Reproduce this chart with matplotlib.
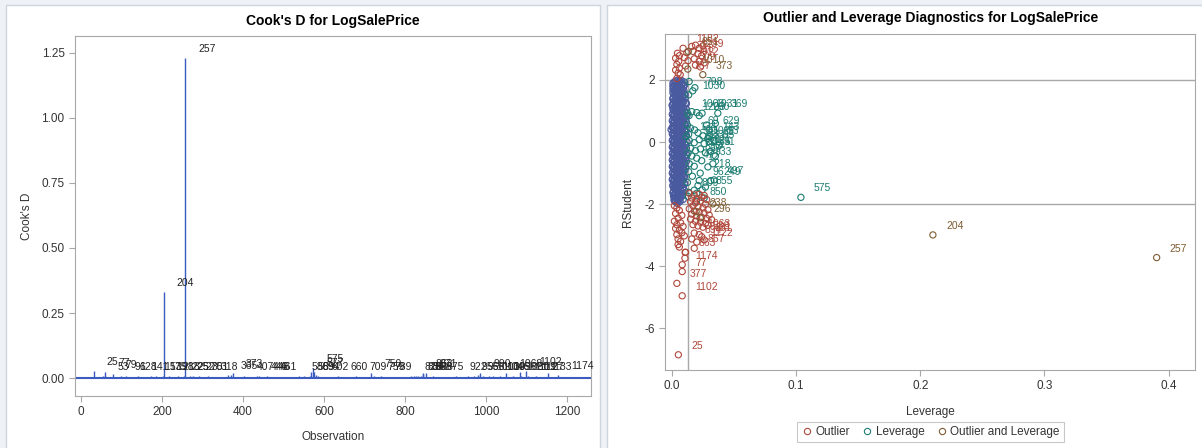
import matplotlib
matplotlib.use('Agg')
import matplotlib.pyplot as plt
from matplotlib.lines import Line2D
from matplotlib.patches import Rectangle

plt.rcParams['font.family'] = ['Liberation Sans', 'DejaVu Sans']
plt.rcParams['axes.unicode_minus'] = False

# ---------------- Cook's D data ----------------
# small needles without a label
plain_obs = [55, 102, 130, 150, 188, 233, 270, 322, 345, 370,
             388, 412, 455, 470, 495, 520, 548, 567, 580, 605,
             655, 690, 733, 755, 780, 828, 845, 880, 905, 940,
             981, 1025, 1060, 1084, 1140, 1153, 1190, 1215, 1240]
plain_d = [0.008, 0.004, 0.005, 0.003, 0.003, 0.005, 0.006, 0.004, 0.003, 0.012,
           0.004, 0.003, 0.003, 0.004, 0.003, 0.004, 0.005, 0.022, 0.010, 0.004,
           0.003, 0.004, 0.003, 0.004, 0.003, 0.006, 0.015, 0.004, 0.003, 0.005,
           0.011, 0.004, 0.003, 0.025, 0.004, 0.018, 0.003, 0.004, 0.003]

# labelled observations
lab_ids = ['25', '77', '53', '79', '96', '128', '141', '153', '175', '198',
           '218', '225', '252', '275', '301', '318', '365', '373', '407', '446',
           '448', '461', '586', '589', '594', '602', '575', '577', '660', '709',
           '750', '759', '789', '826', '834', '851', '858', '863', '871', '875',
           '922', '955', '966', '990', '1010', '1030', '1046', '1056', '1068', '1080',
           '1119', '1102', '1127', '1133', '1174', '204', '257']
lab_obs = [31, 60, 59, 78, 99, 111, 140, 173, 185, 202,
           217, 239, 254, 276, 291, 313, 362, 375, 402, 435,
           440, 459, 538, 551, 565, 585, 573, 575, 634, 679,
           716, 723, 741, 815, 822, 832, 840, 844, 852, 869,
           926, 956, 970, 985, 993, 1007, 1017, 1035, 1049, 1067,
           1086, 1099, 1104, 1123, 1177, 204, 257]
lab_d = [0.027, 0.025, 0.008, 0.015, 0.008, 0.008, 0.008, 0.008, 0.008, 0.008,
         0.008, 0.008, 0.008, 0.008, 0.008, 0.008, 0.012, 0.018, 0.008, 0.008,
         0.008, 0.008, 0.008, 0.008, 0.008, 0.008, 0.040, 0.022, 0.008, 0.008,
         0.020, 0.008, 0.008, 0.008, 0.008, 0.008, 0.008, 0.020, 0.018, 0.008,
         0.008, 0.008, 0.008, 0.020, 0.008, 0.008, 0.008, 0.008, 0.020, 0.008,
         0.008, 0.027, 0.008, 0.008, 0.012, 0.330, 1.230]

# ---------------- RStudent vs leverage data ----------------
# regular observations: one RStudent value per row with its leverages
norm_rs = [1.98, 1.93, 1.86, 1.80, 1.73, 1.66, 1.59, 1.52, 1.45, 1.38,
           1.31, 1.24, 1.17, 1.10, 1.03, 0.96, 0.89, 0.82, 0.75, 0.68,
           0.61, 0.54, 0.47, 0.40, 0.33, 0.26, 0.19, 0.12, 0.05, -0.02,
           -0.09, -0.16, -0.23, -0.30, -0.37, -0.44, -0.51, -0.58, -0.65, -0.72,
           -0.79, -0.86, -0.93, -1.00, -1.07, -1.14, -1.21, -1.28, -1.35, -1.42,
           -1.49, -1.56, -1.63, -1.70, -1.77, -1.84, -1.91, -1.97]
norm_lev = [
    [0.0045, 0.0075], [0.0020, 0.0060, 0.0100], [0.0035, 0.0080],
    [0.0010, 0.0050, 0.0090], [0.0030, 0.0070], [0.0020, 0.0055, 0.0095],
    [0.0010, 0.0040, 0.0080], [0.0030, 0.0065, 0.0105], [0.0015, 0.0050, 0.0085],
    [0.0035, 0.0070, 0.0010], [0.0025, 0.0060, 0.0095], [0.0015, 0.0045, 0.0080, 0.0115],
    [0.0035, 0.0070, 0.0005], [0.0025, 0.0060, 0.0095], [0.0015, 0.0050, 0.0085],
    [0.0035, 0.0070, 0.0105], [0.0005, 0.0025, 0.0060, 0.0090], [0.0015, 0.0045, 0.0080],
    [0.0035, 0.0070, 0.0110], [0.0005, 0.0025, 0.0055, 0.0090], [0.0015, 0.0045, 0.0080],
    [0.0035, 0.0065, 0.0100], [0.0005, 0.0025, 0.0055, 0.0090], [-0.0005, 0.0015, 0.0045, 0.0080],
    [0.0035, 0.0065, 0.0110], [0.0005, 0.0025, 0.0055, 0.0090], [0.0015, 0.0045, 0.0080],
    [0.0035, 0.0065, 0.0100], [0.0005, 0.0025, 0.0055, 0.0090], [0.0015, 0.0045, 0.0080],
    [0.0035, 0.0065, 0.0110], [0.0005, 0.0025, 0.0055, 0.0090], [0.0015, 0.0045, 0.0080],
    [0.0035, 0.0065, 0.0100], [0.0005, 0.0025, 0.0055, 0.0090], [0.0015, 0.0045, 0.0080],
    [0.0035, 0.0065, 0.0110], [0.0005, 0.0025, 0.0055, 0.0090], [0.0015, 0.0045, 0.0080],
    [0.0035, 0.0065, 0.0100], [0.0005, 0.0025, 0.0055, 0.0090], [0.0015, 0.0045, 0.0080],
    [0.0035, 0.0065, 0.0100], [0.0005, 0.0025, 0.0055, 0.0090], [0.0015, 0.0045, 0.0080],
    [0.0035, 0.0065, 0.0095], [0.0005, 0.0025, 0.0055, 0.0085], [0.0015, 0.0045, 0.0080],
    [0.0035, 0.0065, 0.0100], [0.0010, 0.0030, 0.0060], [0.0020, 0.0050, 0.0085],
    [0.0035, 0.0070, 0.0100], [0.0010, 0.0030, 0.0060], [0.0020, 0.0050, 0.0085],
    [0.0035, 0.0070], [0.0020, 0.0050, 0.0090], [0.0030, 0.0065], [0.0045],
]
# second, interleaved set of regular observations
norm_rs_b = [1.96, 1.89, 1.83, 1.76, 1.69, 1.62, 1.55, 1.48, 1.41, 1.34,
             1.27, 1.20, 1.13, 1.06, 0.99, 0.92, 0.85, 0.78, 0.71, 0.64,
             0.57, 0.50, 0.43, 0.36, 0.29, 0.22, 0.15, 0.08, 0.01, -0.06,
             -0.13, -0.20, -0.27, -0.34, -0.41, -0.48, -0.55, -0.62, -0.69, -0.76,
             -0.83, -0.90, -0.97, -1.04, -1.11, -1.18, -1.25, -1.32, -1.39, -1.46,
             -1.53, -1.60, -1.67, -1.74, -1.81, -1.88]
norm_lev_b = [
    [0.0030, 0.0065], [0.0010, 0.0045, 0.0080], [0.0025, 0.0060, 0.0100], [0.0015, 0.0070],
    [0.0040, 0.0085, 0.0010], [0.0030, 0.0070], [0.0020, 0.0060, 0.0100], [0.0045, 0.0080],
    [0.0010, 0.0035, 0.0070, 0.0105], [0.0025, 0.0050, 0.0085], [0.0040, 0.0075, 0.0110], [0.0005, 0.0030, 0.0065],
    [0.0020, 0.0055, 0.0090], [0.0010, 0.0040, 0.0075, 0.0115], [0.0030, 0.0065, 0.0100], [0.0010, 0.0040, 0.0075],
    [0.0020, 0.0050, 0.0085, 0.0120], [0.0030, 0.0065, 0.0100], [0.0010, 0.0040, 0.0075], [0.0020, 0.0050, 0.0085, 0.0115],
    [0.0030, 0.0065, 0.0100], [0.0010, 0.0040, 0.0075], [0.0020, 0.0050, 0.0085, 0.0120], [0.0030, 0.0065, 0.0100],
    [0.0010, 0.0040, 0.0075], [0.0020, 0.0050, 0.0085, 0.0115], [0.0030, 0.0065, 0.0100], [0.0010, 0.0040, 0.0075],
    [0.0020, 0.0050, 0.0085, 0.0120], [0.0030, 0.0065, 0.0100], [0.0010, 0.0040, 0.0075], [0.0020, 0.0050, 0.0085, 0.0115],
    [0.0030, 0.0065, 0.0100], [0.0010, 0.0040, 0.0075], [0.0020, 0.0050, 0.0085, 0.0120], [0.0030, 0.0065, 0.0100],
    [0.0010, 0.0040, 0.0075], [0.0020, 0.0050, 0.0085, 0.0115], [0.0030, 0.0065, 0.0100], [0.0010, 0.0040, 0.0075],
    [0.0020, 0.0050, 0.0085, 0.0110], [0.0030, 0.0065, 0.0100], [0.0010, 0.0040, 0.0075], [0.0020, 0.0050, 0.0085],
    [0.0030, 0.0065, 0.0100], [0.0010, 0.0040, 0.0075], [0.0020, 0.0050, 0.0085], [0.0030, 0.0065, 0.0100],
    [0.0010, 0.0040, 0.0075], [0.0020, 0.0055, 0.0090], [0.0030, 0.0065], [0.0015, 0.0045, 0.0080],
    [0.0025, 0.0060], [0.0015, 0.0045, 0.0080], [0.0030, 0.0060], [0.0020, 0.0055],
]

# outliers (lev, rstudent, id)
outlier_pts = [
    (0.0040, 2.05, ''), (0.0050, 2.22, ''), (0.0030, 2.32, ''), (0.0060, 2.38, ''),
    (0.0040, 2.50, ''), (0.0055, 2.60, ''), (0.0030, 2.70, ''), (0.0060, 2.78, ''),
    (0.0045, 2.86, ''), (0.0067, 2.17, '787'),
    (0.0090, 3.02, '1182'), (0.0120, 2.88, '1299'), (0.0100, 2.72, '118'),
    (0.0130, 2.62, '912'), (0.0110, 2.45, '309'),
    (0.016, 3.08, ''), (0.019, 3.12, ''), (0.022, 3.02, ''), (0.025, 3.10, ''),
    (0.017, 2.92, ''), (0.021, 2.85, ''), (0.024, 2.78, ''), (0.018, 2.68, ''),
    (0.022, 2.60, ''), (0.026, 2.55, ''), (0.019, 2.48, ''), (0.023, 2.42, ''),
    (0.0020, -2.05, ''), (0.0040, -2.12, ''), (0.0060, -2.20, ''), (0.0030, -2.30, ''),
    (0.0080, -2.36, ''), (0.0050, -2.45, ''), (0.0020, -2.55, ''), (0.0070, -2.60, ''),
    (0.0040, -2.66, ''), (0.0090, -2.72, ''), (0.0030, -2.78, ''), (0.0060, -2.84, ''),
    (0.0080, -2.92, ''), (0.0040, -2.98, ''), (0.0100, -3.02, ''), (0.0050, -3.12, ''),
    (0.0070, -3.20, ''), (0.0050, -3.30, ''), (0.0060, -3.38, ''), (0.0110, -3.55, ''),
    (0.0105, -3.74, ''), (0.0083, -3.95, '1174'), (0.0083, -4.17, '77'),
    (0.0040, -4.55, '377'), (0.0083, -4.95, '1102'), (0.0052, -6.85, '25'),
    (0.014, -1.65, ''), (0.018, -1.70, ''), (0.022, -1.68, ''), (0.026, -1.72, ''),
    (0.016, -1.80, ''), (0.020, -1.83, ''), (0.024, -1.78, ''), (0.028, -1.85, ''),
    (0.015, -1.92, ''), (0.019, -1.96, ''), (0.023, -1.90, ''), (0.027, -2.00, ''),
    (0.017, -2.05, ''), (0.021, -2.08, ''), (0.025, -2.12, ''), (0.029, -2.18, ''),
    (0.014, -2.15, ''), (0.018, -2.22, ''), (0.022, -2.25, ''), (0.026, -2.28, ''),
    (0.030, -2.35, ''), (0.016, -2.32, ''), (0.020, -2.38, ''), (0.024, -2.42, ''),
    (0.028, -2.46, ''), (0.032, -2.50, ''), (0.015, -2.48, ''), (0.019, -2.55, ''),
    (0.023, -2.58, ''), (0.027, -2.62, ''), (0.017, -2.66, ''), (0.021, -2.70, ''),
    (0.025, -2.74, ''), (0.029, -2.68, ''),
    (0.018, -2.93, '1063'), (0.022, -2.98, '588'), (0.016, -3.12, '894'),
    (0.024, -3.05, '681'), (0.020, -3.22, '1122'), (0.026, -3.15, ''),
    (0.0107, -3.55, '863'), (0.018, -3.42, '857'),
]

# high leverage (lev, rstudent, id)
leverage_pts = [
    (0.0168, 1.65, '798'), (0.0135, 1.52, '1030'), (0.0139, 1.95, ''), (0.0185, 1.75, ''),
    (0.0127, 0.93, '1003'), (0.0243, 0.93, '1031'), (0.0370, 0.93, '369'),
    (0.0138, 0.85, '1203'), (0.0220, 0.85, '260'), (0.0160, 0.98, ''), (0.0200, 0.95, ''),
    (0.0183, 0.39, '69'), (0.0300, 0.39, '629'), (0.0115, 0.18, '134'), (0.0300, 0.18, '143'),
    (0.0350, 0.60, ''), (0.0280, 0.55, ''), (0.0150, 0.45, ''),
    (0.0140, 0.05, '541'), (0.0180, -0.02, '88'), (0.0220, 0.08, '1027'), (0.0260, -0.05, '305'),
    (0.0300, 0.02, '61'), (0.0340, 0.05, '53'), (0.0150, -0.20, '466'), (0.0190, -0.28, '1185'),
    (0.0230, -0.22, '821'), (0.0270, -0.35, '1'), (0.0310, -0.30, '91'), (0.0160, -0.45, '833'),
    (0.0200, -0.52, '67'), (0.0240, -0.60, '933'), (0.0140, -0.70, '47'), (0.0180, -0.78, '12'),
    (0.0228, -1.00, '218'), (0.0220, -1.24, '96'), (0.0313, -1.24, '249'), (0.0340, -1.22, '497'),
    (0.0244, -1.54, '855'), (0.0136, -1.62, '809'), (0.0198, -1.91, '850'),
    (0.0130, -0.35, ''), (0.0135, -0.95, ''), (0.0165, -1.10, ''), (0.0125, -1.30, ''),
    (0.0210, -1.40, ''), (0.0270, -1.45, ''), (0.0180, -1.55, ''), (0.0290, -0.80, ''),
    (0.0330, -0.70, ''), (0.0125, 0.55, ''), (0.0135, 0.25, ''), (0.0210, 0.30, ''),
    (0.0250, 0.20, ''), (0.0290, 0.12, ''), (0.0380, -0.10, ''), (0.0350, -0.45, ''),
    (0.0130, -1.75, ''), (0.0260, -1.80, ''), (0.0200, -1.65, ''),
    (0.1039, -1.78, '575'),
]

# outlier and leverage (lev, rstudent, id)
both_pts = [
    (0.0132, 2.92, '851'), (0.0128, 2.35, '1010'), (0.0249, 2.17, '373'),
    (0.0195, -2.24, '238'), (0.0228, -2.44, '296'), (0.0330, -1.99, ''),
    (0.2102, -2.99, '204'), (0.3904, -3.72, '257'),
]

rs_cut = 2.0
lev_cut = 0.0126

needle_c = '#3b5bbf'
blue_c = '#4a5a9e'
red_c = '#b0473b'
teal_c = '#1c7d72'
brown_c = '#7d5c32'
gray = '#a8a8a8'

fig = plt.figure(figsize=(12.02, 4.48), dpi=100, facecolor='#eef1f5')
for x0, x1 in [(6, 600), (607, 1210)]:
    fig.patches.append(Rectangle((x0 / 1202, -0.01), (x1 - x0) / 1202, 1.0 - 5 / 448 + 0.01,
                                 transform=fig.transFigure, facecolor='white',
                                 edgecolor='#cfd5de', lw=1, zorder=-10))


def style(ax):
    ax.set_zorder(1)
    ax.patch.set_alpha(0)
    for s in ax.spines.values():
        s.set_color(gray)
    ax.tick_params(direction='out', length=4, color=gray, labelsize=8.5, labelcolor='#333333')


# ---------------- left: Cook's D ----------------
axL = fig.add_axes([0.0624, 0.1161, 0.4293, 0.8035])
style(axL)
axL.vlines(plain_obs + lab_obs, 0, plain_d + lab_d, color=needle_c, lw=1)
axL.axhline(0, color=needle_c, lw=1.5)
for t, x, y in zip(lab_ids, lab_obs, lab_d):
    axL.annotate(t, (x, y), xytext=(9.4, 6.5), textcoords='offset points',
                 fontsize=7.5, ha='left', va='center', color='#222222')
axL.set_xlim(-15, 1259)
axL.set_ylim(-0.069, 1.315)
axL.set_xticks([0, 200, 400, 600, 800, 1000, 1200])
axL.set_yticks([0, 0.25, 0.5, 0.75, 1.0, 1.25])
axL.set_yticklabels(['0.00', '0.25', '0.50', '0.75', '1.00', '1.25'])
axL.set_xlabel('Observation', fontsize=8.5, color='#333333')
axL.set_ylabel("Cook's D", fontsize=8.5, color='#333333')
axL.xaxis.set_label_coords(0.5, -0.097)
axL.yaxis.set_label_coords(-0.081, 0.5)
axL.set_title("Cook's D for LogSalePrice", fontsize=10, fontweight='bold', pad=8)

# ---------------- right: RStudent by leverage ----------------
axR = fig.add_axes([0.5535, 0.1741, 0.4407, 0.75])
style(axR)
axR.axhline(rs_cut, color=gray, lw=1, zorder=1)
axR.axhline(-rs_cut, color=gray, lw=1, zorder=1)
axR.axvline(lev_cut, color=gray, lw=1, zorder=1)

bx = [v for row in norm_lev + norm_lev_b for v in row]
by = [r for r, row in zip(norm_rs + norm_rs_b, norm_lev + norm_lev_b) for _ in row]
axR.scatter(bx, by, s=22, facecolors='none', edgecolors=blue_c, linewidths=0.9, zorder=2)

for pts, c in [(leverage_pts, teal_c), (outlier_pts, red_c), (both_pts, brown_c)]:
    xs = [p[0] for p in pts]
    ys = [p[1] for p in pts]
    axR.scatter(xs, ys, s=20, facecolors='none', edgecolors=c, linewidths=0.8, zorder=3)
    for x, y, t in pts:
        if t:
            axR.annotate(t, (x, y), xytext=(9.4, 6.5), textcoords='offset points',
                         fontsize=7.5, ha='left', va='center', color=c, zorder=4)

axR.set_xlim(-0.0053, 0.4213)
axR.set_ylim(-7.34, 3.48)
axR.set_xticks([0, 0.1, 0.2, 0.3, 0.4])
axR.set_xticklabels(['0.0', '0.1', '0.2', '0.3', '0.4'])
axR.set_yticks([-6, -4, -2, 0, 2])
axR.set_xlabel('Leverage', fontsize=8.5, color='#333333')
axR.set_ylabel('RStudent', fontsize=8.5, color='#333333')
axR.xaxis.set_label_coords(0.5, -0.106)
axR.yaxis.set_label_coords(-0.059, 0.5)
axR.set_title('Outlier and Leverage Diagnostics for LogSalePrice', fontsize=10,
              fontweight='bold', pad=9)

handles = [Line2D([], [], marker='o', ls='none', mfc='none', mec=c, ms=4.5, mew=0.8)
           for c in (red_c, teal_c, brown_c)]
leg = fig.legend(handles, ['Outlier', 'Leverage', 'Outlier and Leverage'],
                 loc='center', bbox_to_anchor=(0.774, 0.0357), ncol=3, fontsize=8.5,
                 handletextpad=0.2, columnspacing=1.0, borderpad=0.35, handlelength=1.0,
                 fancybox=False, edgecolor='#c8c8c8', framealpha=1)
leg.get_frame().set_linewidth(0.8)
for t in leg.get_texts():
    t.set_color('#333333')

fig.savefig('out.png', dpi=100, facecolor=fig.get_facecolor())
